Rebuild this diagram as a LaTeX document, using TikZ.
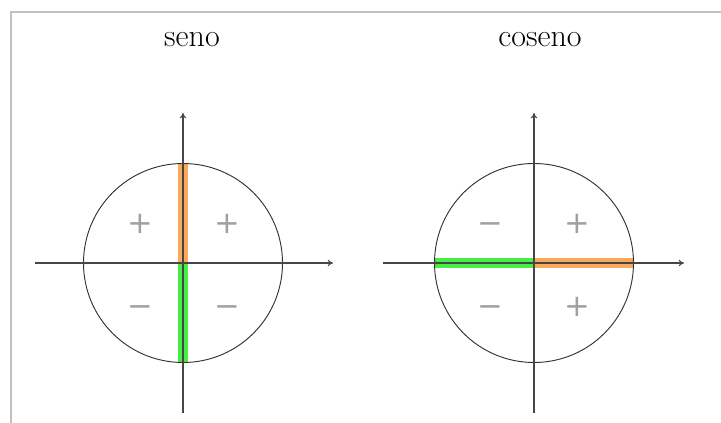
\documentclass[tikz,border=0pt]{standalone}
\usepackage{fontspec}
\newfontfamily\signfont{DejaVu Sans}
\usetikzlibrary{arrows.meta}
\definecolor{frame}{RGB}{192,192,192}
\definecolor{axisc}{RGB}{70,70,70}
\definecolor{orangebar}{RGB}{250,170,90}
\definecolor{greenbar}{RGB}{70,238,70}
\definecolor{signc}{RGB}{160,160,160}
\tikzset{
  axis/.style={axisc, line width=0.8pt, -{To[length=4pt,width=5pt]}},
  circ/.style={draw=black!80, line width=0.7pt},
  bar/.style={line width=7.5pt},
  sign/.style={signc, font=\signfont\fontsize{23}{26}\selectfont},
  title/.style={font=\fontsize{24}{27}\selectfont, anchor=base},
  border/.style={frame, line width=1.2pt}
}
\begin{document}
\begin{tikzpicture}[x=0.75pt, y=-0.75pt]
\useasboundingbox (0,0) rectangle (721,423);
% frame
\coordinate (tl) at (11,12);
\coordinate (tr) at (721,12);
\coordinate (bl) at (11,423);
\draw[border] (tr) -- (tl) -- (bl);
% titles
\node[title] (t1) at (192,47) {seno};
\node[title] (t2) at (540,47) {coseno};
% ---- seno ----
\coordinate (o1) at (183,263);
\coordinate (x1a) at (35,263);
\coordinate (x1b) at (333,263);
\coordinate (y1a) at (183,413);
\coordinate (y1b) at (183,113);
\coordinate (top1) at (183,164);
\coordinate (bot1) at (183,362);
\draw[bar, orangebar] (o1) -- (top1);
\draw[bar, greenbar] (o1) -- (bot1);
\draw[circ] (o1) circle[radius=99.5];
\draw[axis] (x1a) -- (x1b);
\draw[axis] (y1a) -- (y1b);
\node[sign] (s1) at (140,224) {+};
\node[sign] (s2) at (227,224) {+};
\node[sign] (s3) at (140,311) {−};
\node[sign] (s4) at (227,311) {−};
% ---- coseno ----
\coordinate (o2) at (534,263);
\coordinate (x2a) at (383,263);
\coordinate (x2b) at (684,263);
\coordinate (y2a) at (534,413);
\coordinate (y2b) at (534,113);
\coordinate (lft2) at (434,263);
\coordinate (rgt2) at (633,263);
\draw[bar, greenbar] (o2) -- (lft2);
\draw[bar, orangebar] (o2) -- (rgt2);
\draw[circ] (o2) circle[radius=99.5];
\draw[axis] (x2a) -- (x2b);
\draw[axis] (y2a) -- (y2b);
\node[sign] (c1) at (490,228) {−};
\node[sign] (c2) at (577,224) {+};
\node[sign] (c3) at (490,311) {−};
\node[sign] (c4) at (577,307) {+};
\end{tikzpicture}
\end{document}
